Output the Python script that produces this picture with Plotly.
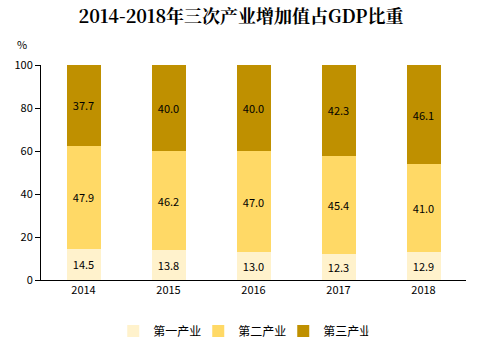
import plotly.graph_objects as go

years = ["2014", "2015", "2016", "2017", "2018"]
primary = [14.5, 13.8, 13.0, 12.3, 12.9]
secondary = [47.9, 46.2, 47.0, 45.4, 41.0]
tertiary = [37.7, 40.0, 40.0, 42.3, 46.1]
names = ["第一产业", "第二产业", "第三产业"]
colors = ["#FFF2CC", "#FFD966", "#BF9000"]
yticks = [0, 20, 40, 60, 80, 100]

fig = go.Figure()
for name, vals, col in zip(names, [primary, secondary, tertiary], colors):
    fig.add_trace(go.Bar(
        x=years, y=vals, name=name, marker=dict(color=col, line=dict(width=0)),
        text=[f"{v:.1f}" for v in vals], textposition="inside",
        insidetextanchor="middle", textfont=dict(color="#000000", size=11),
        width=0.4,
    ))

fig.update_layout(
    barmode="stack",
    width=482, height=353,
    margin=dict(l=41, r=16, t=65, b=73, autoexpand=False),
    paper_bgcolor="white", plot_bgcolor="white",
    font=dict(family="Noto Sans CJK SC, sans-serif", size=11, color="#000000"),
    title=dict(text="<b>2014-2018年三次产业增加值占GDP比重</b>",
               x=0.5, xanchor="center", y=0.952, yanchor="middle",
               font=dict(family="Noto Serif CJK SC, Noto Sans CJK SC, serif", size=18, color="#000000")),
    showlegend=True,
    legend=dict(orientation="h", x=0.47, xanchor="center", y=-0.17, yanchor="top",
                font=dict(size=12), itemwidth=30, traceorder="normal",
                entrywidth=40, entrywidthmode="pixels"),
    uniformtext=dict(minsize=8, mode="show"),
)
fig.update_xaxes(showline=True, linecolor="#000000", linewidth=1, ticks="",
                 showgrid=False, tickfont=dict(size=11))
fig.update_yaxes(range=[0, 100], tickvals=yticks, showline=True, linecolor="#000000",
                 linewidth=1, ticks="outside", ticklen=5, tickcolor="#000000",
                 showgrid=False, zeroline=False, tickfont=dict(size=11))
fig.add_annotation(text="%", xref="paper", yref="paper",
                   x=(22 - 41) / (482 - 41 - 16), y=(280 - 44) / (280 - 65),
                   xanchor="center", yanchor="middle",
                   showarrow=False, font=dict(size=11))
fig.write_html("out.html")
